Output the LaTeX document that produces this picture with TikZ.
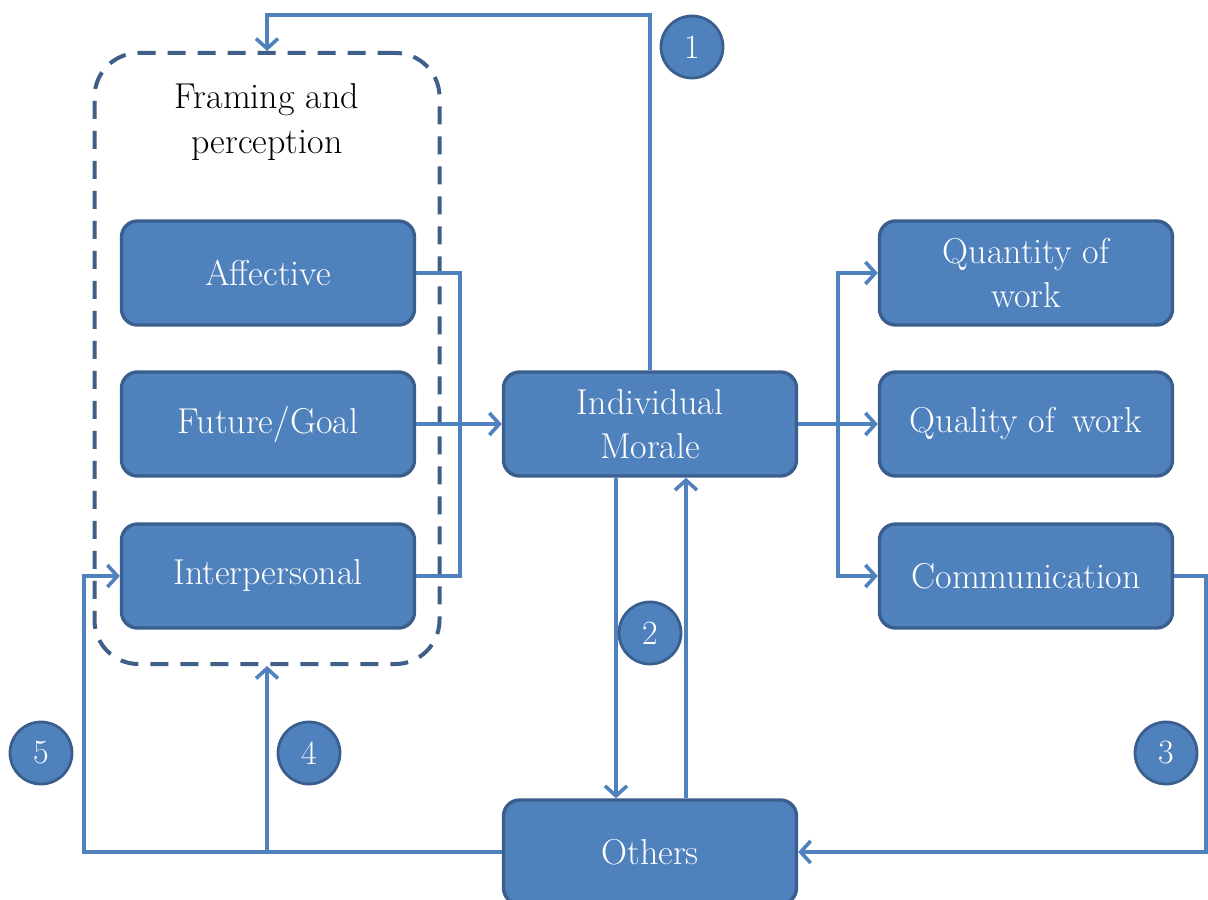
\documentclass[tikz,border=0pt]{standalone}
\usepackage{amsmath}
\usepackage{tikz}
\usetikzlibrary{arrows.meta}

\definecolor{boxblue}{HTML}{4F81BD}
\definecolor{boxedge}{HTML}{3A5F8E}
\definecolor{frameblue}{HTML}{3F5E88}

\tikzset{
  box/.style={draw=boxedge, fill=boxblue, line width=1.7pt, rounded corners=8pt,
    minimum width=146.5pt, minimum height=52pt, align=center, text=white,
    font=\fontsize{18}{22}\selectfont},
  numcirc/.style={draw=boxedge, fill=boxblue, circle, line width=1.4pt,
    minimum size=31pt, inner sep=0pt, text=white, font=\fontsize{17}{20}\selectfont},
  wire/.style={draw=boxblue, line width=1.8pt},
  tip/.style={-{Straight Barb[length=5pt, width=11pt, line width=1.8pt]}},
}

\begin{document}
\begin{tikzpicture}[x=0.5pt, y=-0.5pt]
      \useasboundingbox (0, 0) rectangle (1208, 899);

      % dashed frame round the three framing boxes
      \node[draw=frameblue, line width=2pt, dash pattern=on 9pt off 6pt,
            rounded corners=22pt, minimum width=172.5pt, minimum height=305.5pt]
            (frame) at (267, 358.5) {};
      \node[align=center, font=\fontsize{18}{22.5}\selectfont]
            (frametitle) at (267, 122) {Framing and\\perception};

      \node[box] (aff)   at (268, 273)  {Affective};
      \node[box] (fut)   at (268, 424)  {Future/Goal};
      \node[box] (inter) at (268, 576)  {Interpersonal};
      \node[box] (mor)   at (650, 424)  {Individual\\Morale};
      \node[box] (qty)   at (1026, 273) {Quantity of\\work};
      \node[box] (qual)  at (1026, 424) {Quality of\, work};
      \node[box] (comm)  at (1026, 576) {Communication};
      \node[box] (oth)   at (650, 852)  {Others};

      \node[numcirc] (n1) at (692, 47)  {1};
      \node[numcirc] (n2) at (650, 633) {2};
      \node[numcirc] (n3) at (1166, 753) {3};
      \node[numcirc] (n4) at (309, 753) {4};
      \node[numcirc] (n5) at (41, 753)  {5};

      \coordinate (top)   at (267, 15);
      \coordinate (lbus)  at (460, 424);
      \coordinate (rbus)  at (838, 424);
      \coordinate (rdown) at (1206, 852);
      \coordinate (lfar)  at (84, 852);
      \coordinate (lmid)  at (267, 852);

      % loop 1
      \draw[wire, tip] (mor.north) |- (top) -- (frame.north);
      % left side into morale
      \draw[wire] (aff.east) -| (lbus) |- (inter.east);
      \draw[wire, tip] (fut.east) -- (mor.west);
      % right side out of morale
      \draw[wire, tip] (mor.east) -- (qual.west);
      \draw[wire, tip] (rbus) |- (qty.west);
      \draw[wire, tip] (rbus) |- (comm.west);
      % loop 2
      \draw[wire, tip] ([xshift=-17pt]mor.south) -- ([xshift=-17pt]oth.north);
      \draw[wire, tip] ([xshift=18pt]oth.north) -- ([xshift=18pt]mor.south);
      % loop 3
      \draw[wire, tip] (comm.east) -| (rdown) -- (oth.east);
      % loops 4 and 5
      \draw[wire, tip] (oth.west) -- (lfar) |- (inter.west);
      \draw[wire, tip] (lmid) -- (frame.south);
\end{tikzpicture}
\end{document}
